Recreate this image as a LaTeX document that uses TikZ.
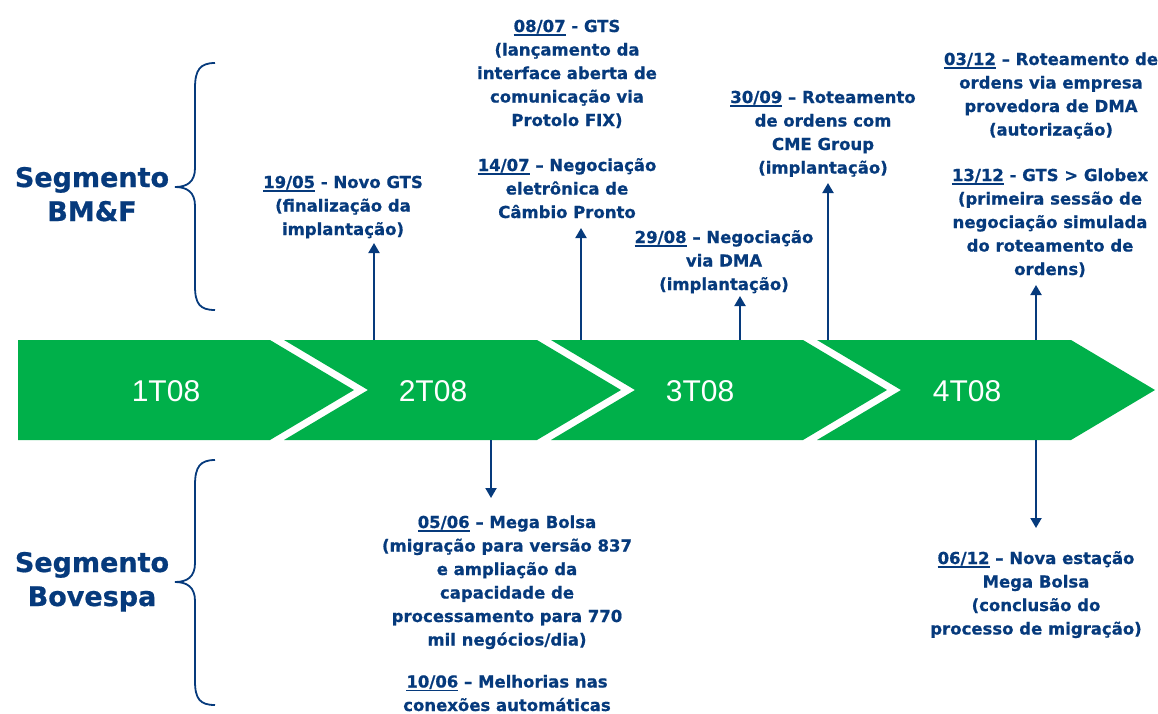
\documentclass[tikz,border=0pt]{standalone}
\usepackage{fontspec}
\setmainfont{DejaVu Sans}
\newfontfamily\evtfont{DejaVu Sans Bold}[FakeBold=0.7]
\newfontfamily\arialf{Liberation Sans}
\usetikzlibrary{arrows.meta}
\definecolor{tblue}{RGB}{6,58,124}
\definecolor{bandgreen}{RGB}{0,176,74}
\newcommand\udate[1]{\setbox0\hbox{#1}\rlap{\rule[-3.5pt]{\wd0}{1.5pt}}\box0\relax}
\begin{document}
\begin{tikzpicture}[x=1pt,y=-1pt,
 evt/.style={align=center, text=tblue, font=\evtfont\fontsize{16.5}{23.5}\selectfont, inner sep=0pt, anchor=base},
 seg/.style={align=center, text=tblue, font=\evtfont\fontsize{27}{34}\selectfont, inner sep=0pt, anchor=base},
 qlabel/.style={text=white, font=\arialf\fontsize{30}{36}\selectfont, inner sep=0pt},
 chev/.style={fill=bandgreen, draw=none},
 evarrow/.style={draw=tblue, line width=2pt, -{Triangle[width=11pt,length=10pt]}},
 bracestyle/.style={draw=tblue, line width=1.8pt}]
\useasboundingbox (0,0) rectangle (1158,713);

% band
\fill[chev] (18,340) -- (270,340) -- (354,390) -- (270,440) -- (18,440) -- cycle;
\fill[chev] (284,340) -- (537,340) -- (621,390) -- (537,440) -- (284,440) -- (368,390) -- cycle;
\fill[chev] (551,340) -- (803,340) -- (887,390) -- (803,440) -- (551,440) -- (635,390) -- cycle;
\fill[chev] (817,340) -- (1071,340) -- (1155,390) -- (1071,440) -- (817,440) -- (901,390) -- cycle;
\node[qlabel] (q1) at (166,391) {1T08};
\node[qlabel] (q2) at (433,391) {2T08};
\node[qlabel] (q3) at (700,391) {3T08};
\node[qlabel] (q4) at (967,391) {4T08};

% segment labels and braces (anchor = baseline of last line)
\node[seg] (sbmf) at (92,221) {Segmento\\BM\&F};
\node[seg] (sbov) at (92,606) {Segmento\\Bovespa};
\draw[bracestyle] (215,63) .. controls (200,63) and (195,70) .. (195,88) -- (195,168) .. controls (195,182) and (187,187) .. (175,187) .. controls (187,187) and (195,192) .. (195,206) -- (195,286) .. controls (195,304) and (200,310) .. (215,310);
\draw[bracestyle] (215,460) .. controls (200,460) and (195,467) .. (195,485) -- (195,563) .. controls (195,577) and (187,582) .. (175,582) .. controls (187,582) and (195,587) .. (195,601) -- (195,681) .. controls (195,699) and (200,705) .. (215,705);

% events above (anchor = baseline of last line)
\node[evt] (e1) at (343,235) {\udate{19/05} - Novo GTS\\(finalização da\\implantação)};
\node[evt] (e2) at (567,126) {\udate{08/07} - GTS\\(lançamento da\\interface aberta de\\comunicação via\\Protolo FIX)};
\node[evt] (e3) at (567,218) {\udate{14/07} – Negociação\\eletrônica de\\Câmbio Pronto};
\node[evt] (e4) at (724,290) {\udate{29/08} – Negociação\\via DMA\\(implantação)};
\node[evt] (e5) at (823,173.5) {\udate{30/09} – Roteamento\\de ordens com\\CME Group\\(implantação)};
\node[evt] (e6) at (1051,135.5) {\udate{03/12} – Roteamento de\\ordens via empresa\\provedora de DMA\\(autorização)};
\node[evt] (e7) at (1050,275) {\udate{13/12} - GTS > Globex\\(primeira sessão de\\negociação simulada\\do roteamento de\\ordens)};
% events below
\node[evt] (e8) at (507,645.5) {\udate{05/06} – Mega Bolsa\\(migração para versão 837\\e ampliação da\\capacidade de\\processamento para 770\\mil negócios/dia)};
\node[evt] (e9) at (507,711) {\udate{10/06} – Melhorias nas\\conexões automáticas};
\node[evt] (e10) at (1036,634.5) {\udate{06/12} – Nova estação\\Mega Bolsa\\(conclusão do\\processo de migração)};

% arrows
\coordinate (b1) at (374,340); \coordinate (t1) at (374,243);
\coordinate (b2) at (581,340); \coordinate (t2) at (581,228);
\coordinate (b3) at (740,340); \coordinate (t3) at (740,296);
\coordinate (b4) at (828,340); \coordinate (t4) at (828,183);
\coordinate (b5) at (1036,340); \coordinate (t5) at (1036,285);
\coordinate (b6) at (491,440); \coordinate (t6) at (491,498);
\coordinate (b7) at (1036,440); \coordinate (t7) at (1036,528);
\foreach \i in {1,...,7} \draw[evarrow] (b\i) -- (t\i);
\end{tikzpicture}
\end{document}
